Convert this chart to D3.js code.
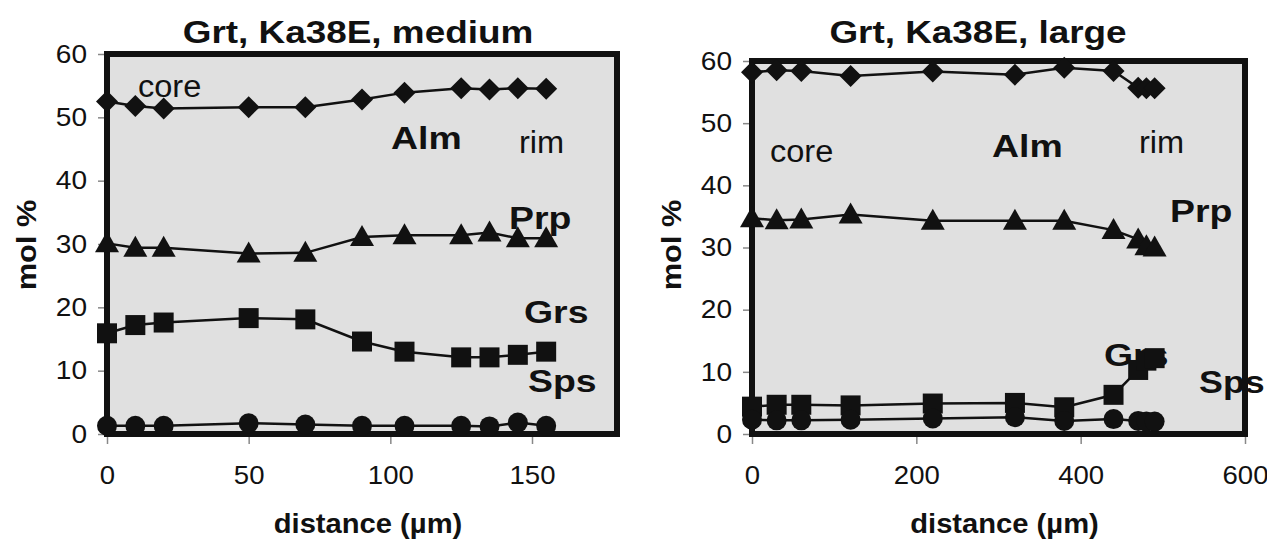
<!DOCTYPE html>
<html>
<head>
<meta charset="utf-8">
<script src="https://cdn.jsdelivr.net/npm/d3@7"></script>
<style>
  body { margin: 0; background: #fff; }
  svg { display: block; font-family: "Liberation Sans", Arial, sans-serif; }
</style>
</head>
<body>
<svg width="1267" height="543"></svg>
<script>
// garnet profiles, values (mol %)
var mediumDist = [0, 10, 20, 50, 70, 90, 105, 125, 135, 145, 155];
var mediumAlm = [52.5, 51.8, 51.4, 51.6, 51.6, 52.8, 53.9, 54.6, 54.4, 54.6, 54.5];
var mediumPrp = [30.1, 29.4, 29.4, 28.5, 28.6, 31.1, 31.4, 31.4, 31.8, 30.9, 30.9];
var mediumGrs = [15.9, 17.2, 17.6, 18.3, 18.1, 14.6, 13.0, 12.1, 12.1, 12.5, 13.0];
var mediumSps = [1.3, 1.3, 1.3, 1.7, 1.5, 1.3, 1.3, 1.3, 1.2, 1.8, 1.3];

var largeDist = [0, 30, 60, 120, 220, 320, 380, 440, 470, 480, 490];
var largeAlm = [58.2, 58.5, 58.4, 57.6, 58.3, 57.8, 58.9, 58.4, 55.7, 55.6, 55.6];
var largePrp = [34.7, 34.4, 34.5, 35.3, 34.3, 34.3, 34.3, 32.8, 31.3, 30.2, 30.0];
var largeGrs = [4.4, 4.7, 4.7, 4.6, 4.9, 5.0, 4.3, 6.3, 10.3, 11.8, 12.2];
var largeSps = [2.3, 2.2, 2.2, 2.3, 2.5, 2.7, 2.1, 2.4, 2.1, 2.0, 2.0];

var yTicks = [0, 10, 20, 30, 40, 50, 60];
var mediumXTicks = [0, 50, 100, 150];
var largeXTicks = [0, 200, 400, 600];

var svg = d3.select('svg');

var panels = [
  {
    title: 'Grt, Ka38E, medium',
    titleX: 358,
    left: 107, right: 617, top: 54, bottom: 434,
    xMax: 180, xTicks: mediumXTicks,
    dist: mediumDist,
    series: {alm: mediumAlm, prp: mediumPrp, grs: mediumGrs, sps: mediumSps},
    labels: [
      {t: 'core', x: 138, y: 97, bold: false},
      {t: 'Alm', x: 391, y: 149, bold: true},
      {t: 'rim', x: 519, y: 153, bold: false},
      {t: 'Prp', x: 509, y: 229, bold: true},
      {t: 'Grs', x: 524, y: 323, bold: true},
      {t: 'Sps', x: 528, y: 392, bold: true}
    ]
  },
  {
    title: 'Grt, Ka38E, large',
    titleX: 978,
    left: 752, right: 1245, top: 61, bottom: 434,
    xMax: 600, xTicks: largeXTicks,
    dist: largeDist,
    series: {alm: largeAlm, prp: largePrp, grs: largeGrs, sps: largeSps},
    labels: [
      {t: 'core', x: 770, y: 162, bold: false},
      {t: 'Alm', x: 992, y: 157, bold: true},
      {t: 'rim', x: 1139, y: 153, bold: false},
      {t: 'Prp', x: 1170, y: 222, bold: true},
      {t: 'Grs', x: 1104, y: 366, bold: true},
      {t: 'Sps', x: 1199, y: 393, bold: true, sx: 1.12}
    ]
  }
];

// marker shapes, Excel style
var markers = {
  alm: 'M0,-11L11,0L0,11L-11,0Z',
  prp: 'M0,-12L12,9L-12,9Z',
  grs: 'M-10,-10H10V10H-10Z',
  sps: d3.symbol().type(d3.symbolCircle).size(Math.PI * 100)()
};

panels.forEach(drawPanel);

// the lettering in the picture is a bit wider than Arial
function wideText(g, x, y, size, bold, sx, anchor, txt, rot) {
  return g.append('text')
    .attr('transform', 'translate(' + x + ',' + y + ')' + (rot ? ' rotate(' + rot + ')' : '') + ' scale(' + sx + ',1)')
    .attr('text-anchor', anchor)
    .attr('font-size', size)
    .attr('font-weight', bold ? 'bold' : 'normal')
    .attr('fill', '#111')
    .text(txt);
}

function drawPanel(p) {
  var x = d3.scaleLinear().domain([0, p.xMax]).range([p.left, p.right]);
  var y = d3.scaleLinear().domain([0, 60]).range([p.bottom, p.top]);
  var g = svg.append('g');

  g.append('rect')
    .attr('x', p.left).attr('y', p.top)
    .attr('width', p.right - p.left).attr('height', p.bottom - p.top)
    .attr('fill', '#e0e0e0');

  // axes (ticks outside the box)
  var yAxis = g.append('g')
    .attr('transform', 'translate(' + p.left + ',0)')
    .call(d3.axisLeft(y).tickValues(yTicks).tickSize(9).tickPadding(11));
  var xAxis = g.append('g')
    .attr('transform', 'translate(0,' + p.bottom + ')')
    .call(d3.axisBottom(x).tickValues(p.xTicks).tickSize(10).tickPadding(22));
  [yAxis, xAxis].forEach(function(a) {
    a.select('.domain').remove();
    a.selectAll('line').attr('stroke', '#888').attr('stroke-width', 1.5);
    a.selectAll('text')
      .attr('fill', '#111')
      .style('font-size', '26px')
      .style('font-family', '"Liberation Sans", Arial, sans-serif');
  });
  yAxis.selectAll('text').attr('x', -20 / 1.08).attr('transform', 'scale(1.08,1)');
  xAxis.selectAll('text').attr('transform', 'scale(1.06,1)');

  g.append('rect')
    .attr('x', p.left).attr('y', p.top)
    .attr('width', p.right - p.left).attr('height', p.bottom - p.top)
    .attr('fill', 'none')
    .attr('stroke', '#111')
    .attr('stroke-width', 6);

  var line = d3.line()
    .x(function(d) { return x(d[0]); })
    .y(function(d) { return y(d[1]); });

  Object.keys(p.series).forEach(function(key) {
    var pts = p.dist.map(function(d, i) { return [d, p.series[key][i]]; });
    g.append('path')
      .datum(pts)
      .attr('d', line)
      .attr('fill', 'none')
      .attr('stroke', '#111')
      .attr('stroke-width', 2.5);
    g.selectAll('.m-' + key)
      .data(pts)
      .enter()
      .append('path')
      .attr('class', 'm-' + key)
      .attr('d', markers[key])
      .attr('fill', '#111')
      .attr('transform', function(d) {
        return 'translate(' + x(d[0]) + ',' + y(d[1]) + ')';
      });
  });

  p.labels.forEach(function(d) {
    if (d.bold) wideText(g, d.x, d.y, 32, true, d.sx || 1.17, 'start', d.t);
    else wideText(g, d.x, d.y, 31, false, 1.05, 'start', d.t);
  });

  wideText(g, p.titleX, 43, 31, true, 1.19, 'middle', p.title);
  wideText(g, (p.left + p.right) / 2 + 6, 533, 27, true, 1.08, 'middle', 'distance (µm)');
  wideText(g, p.left - 71, 245, 28, true, 1.1, 'middle', 'mol %', -90);
}
</script>
</body>
</html>
